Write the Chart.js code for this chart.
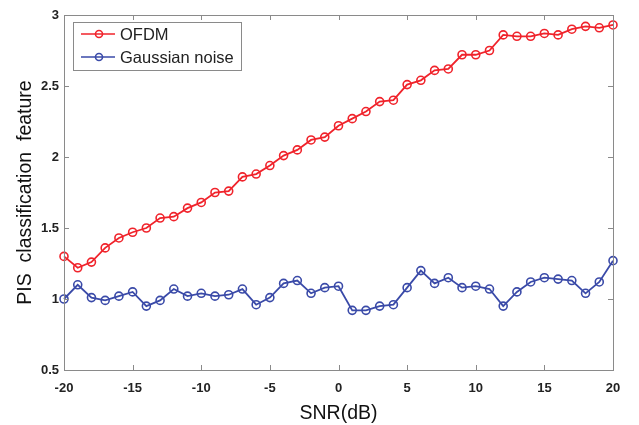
<!DOCTYPE html>
<html>
<head>
<meta charset="utf-8">
<script src="https://cdn.jsdelivr.net/npm/chart.js@4.4.1/dist/chart.umd.min.js"></script>
<style>
  html, body { margin: 0; padding: 0; background: #fff; }
  #wrap { width: 639px; height: 425px; }
</style>
</head>
<body>
<div id="wrap"><canvas id="chart" width="639" height="425"></canvas></div>
<script>
// SNR values, -20 .. 20 dB
const snr = [-20,-19,-18,-17,-16,-15,-14,-13,-12,-11,-10,-9,-8,-7,-6,-5,-4,-3,-2,-1,0,
  1,2,3,4,5,6,7,8,9,10,11,12,13,14,15,16,17,18,19,20];

const ofdm = [1.30,1.22,1.26,1.36,1.43,1.47,1.50,1.57,1.58,1.64,1.68,1.75,1.76,1.86,1.88,1.94,2.01,2.05,2.12,2.14,2.22,
  2.27,2.32,2.39,2.40,2.51,2.54,2.61,2.62,2.72,2.72,2.75,2.86,2.85,2.85,2.87,2.86,2.90,2.92,2.91,2.93];

const gaussian = [1.00,1.10,1.01,0.99,1.02,1.05,0.95,0.99,1.07,1.02,1.04,1.02,1.03,1.07,0.96,1.01,1.11,1.13,1.04,1.08,1.09,
  0.92,0.92,0.95,0.96,1.08,1.20,1.11,1.15,1.08,1.09,1.07,0.95,1.05,1.12,1.15,1.14,1.13,1.04,1.12,1.27];

const xTicks = [-20, -15, -10, -5, 0, 5, 10, 15, 20];
const yTicks = [0.5, 1, 1.5, 2, 2.5, 3];

const seriesNames = ["OFDM", "Gaussian noise"];
const colors = ["#f0232b", "#3a4aa8"];

const toPoints = (ys) => snr.map((x, i) => ({ x: x, y: ys[i] }));

// matlab style box with inward ticks + legend inside the axes
const boxPlugin = {
  id: "box",
  afterDraw(chart) {
    const ctx = chart.ctx;
    const a = chart.chartArea;
    const xs = chart.scales.x, ys = chart.scales.y;
    ctx.save();
    ctx.strokeStyle = "#8a8a8a";
    ctx.lineWidth = 1;
    ctx.strokeRect(a.left + 0.5, a.top + 0.5, a.right - a.left, a.bottom - a.top);
    ctx.beginPath();
    xTicks.forEach(v => {
      const px = Math.round(xs.getPixelForValue(v)) + 0.5;
      ctx.moveTo(px, a.bottom); ctx.lineTo(px, a.bottom - 5);
      ctx.moveTo(px, a.top); ctx.lineTo(px, a.top + 5);
    });
    yTicks.forEach(v => {
      const py = Math.round(ys.getPixelForValue(v)) + 0.5;
      ctx.moveTo(a.left, py); ctx.lineTo(a.left + 5, py);
      ctx.moveTo(a.right, py); ctx.lineTo(a.right - 5, py);
    });
    ctx.stroke();

    // legend
    const lx = a.left + 9, ly = a.top + 7, lw = 168, lh = 48;
    ctx.fillStyle = "#fff";
    ctx.fillRect(lx, ly, lw, lh);
    ctx.strokeStyle = "#8a8a8a";
    ctx.strokeRect(lx + 0.5, ly + 0.5, lw, lh);
    ctx.font = "16.5px 'Liberation Sans', Arial, sans-serif";
    ctx.textBaseline = "middle";
    seriesNames.forEach((name, i) => {
      const yy = ly + 12 + i * 23;
      ctx.strokeStyle = colors[i];
      ctx.lineWidth = 1.6;
      ctx.beginPath();
      ctx.moveTo(lx + 8, yy); ctx.lineTo(lx + 42, yy);
      ctx.stroke();
      ctx.beginPath();
      ctx.arc(lx + 26, yy, 3.5, 0, Math.PI * 2);
      ctx.stroke();
      ctx.fillStyle = "#222";
      ctx.fillText(name, lx + 47, yy + 1);
    });
    ctx.restore();
  }
};

new Chart(document.getElementById("chart"), {
  type: "line",
  data: {
    datasets: [0, 1].map(i => ({
      label: seriesNames[i],
      data: toPoints(i === 0 ? ofdm : gaussian),
      borderColor: colors[i],
      backgroundColor: "rgba(0,0,0,0)",
      borderWidth: 1.8,
      pointRadius: 4,
      pointBorderWidth: 1.6,
      pointBorderColor: colors[i],
      pointBackgroundColor: "rgba(0,0,0,0)",
      tension: 0,
      clip: false
    }))
  },
  options: {
    responsive: false,
    animation: false,
    layout: { padding: { left: 0, right: 26, top: 15, bottom: 0 } },
    plugins: {
      legend: { display: false },
      tooltip: { enabled: false }
    },
    scales: {
      x: {
        type: "linear",
        min: -20, max: 20,
        afterBuildTicks: s => { s.ticks = xTicks.map(v => ({ value: v })); },
        afterFit: s => { s.height = 55; },
        grid: { display: false, drawTicks: false },
        border: { display: false },
        ticks: {
          color: "#222",
          padding: 11,
          maxRotation: 0,
          font: { family: "'Liberation Sans', Arial, sans-serif", size: 13, weight: "bold" }
        },
        title: {
          display: true,
          text: "SNR(dB)",
          color: "#111",
          padding: { top: 3, bottom: 0 },
          font: { family: "'Liberation Sans', Arial, sans-serif", size: 19.5 }
        }
      },
      y: {
        min: 0.5, max: 3,
        afterBuildTicks: s => { s.ticks = yTicks.map(v => ({ value: v })); },
        afterFit: s => { s.width = 64; },
        grid: { display: false, drawTicks: false },
        border: { display: false },
        ticks: {
          color: "#222",
          padding: 5,
          callback: v => String(v),
          font: { family: "'Liberation Sans', Arial, sans-serif", size: 13, weight: "bold" }
        },
        title: {
          display: true,
          text: "PIS  classification  feature",
          color: "#111",
          padding: { top: 14, bottom: 0 },
          font: { family: "'Liberation Sans', Arial, sans-serif", size: 19.5 }
        }
      }
    }
  },
  plugins: [boxPlugin]
});
</script>
</body>
</html>
